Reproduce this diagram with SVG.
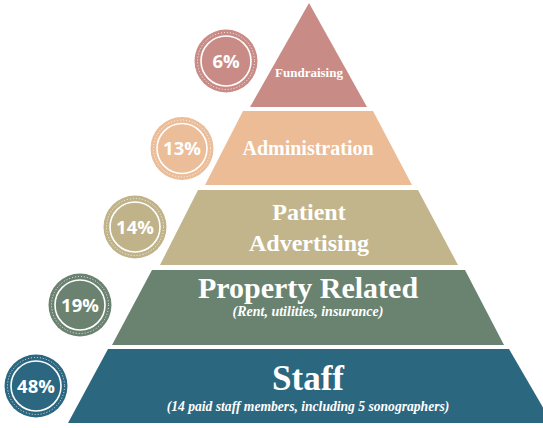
<svg xmlns="http://www.w3.org/2000/svg" width="543" height="428" viewBox="0 0 543 428">
  <style>
    .lbl { font-family: "Liberation Serif", "Times New Roman", serif; font-weight: bold; fill: #ffffff; text-anchor: middle; }
    .sub { font-family: "Liberation Serif", "Times New Roman", serif; font-weight: bold; font-style: italic; fill: #ffffff; text-anchor: middle; }
    .pct { font-family: "Open Sans", "Liberation Sans", sans-serif; font-weight: bold; fill: #ffffff; text-anchor: middle; font-size: 18.5px; }
    .ring { fill: none; stroke: #ffffff; stroke-width: 1.6; }
    .dots { fill: none; stroke: #ffffff; stroke-width: 1; stroke-dasharray: 1 2; opacity: 0.85; }
  </style>
  <rect width="543" height="428" fill="#ffffff"/>

  <g id="connectors"/>

  <g id="fundraising">
    <polygon points="309,3 367,107 250,107" fill="#c98b86"/>
    <text class="lbl" x="309" y="77" font-size="13">Fundraising</text>
  </g>
  <g id="administration">
    <polygon points="243,111 373,111 412,185 205,185" fill="#ecbc96"/>
    <text class="lbl" x="308" y="155" font-size="20">Administration</text>
  </g>
  <g id="patient-advertising">
    <polygon points="198,190 418,190 458,265 160,265" fill="#c2b58c"/>
    <text class="lbl" x="309" y="220" font-size="24">Patient</text>
    <text class="lbl" x="309" y="251" font-size="24">Advertising</text>
  </g>
  <g id="property-related">
    <polygon points="152,270 465,270 504,345 112,345" fill="#6a8371"/>
    <text class="lbl" x="308" y="298" font-size="30">Property Related</text>
    <text class="sub" x="308" y="316" font-size="14">(Rent, utilities, insurance)</text>
  </g>
  <g id="staff">
    <polygon points="108,349 509,349 552,423 68,423" fill="#2c6780"/>
    <text class="lbl" x="308" y="390" font-size="35">Staff</text>
    <text class="sub" x="308" y="411" font-size="13.6">(14 paid staff members, including 5 sonographers)</text>
  </g>

  <g id="badge-6">
    <circle cx="226" cy="61" r="31.5" fill="#c98b86"/>
    <circle cx="226" cy="61" r="28.5" class="dots"/>
    <circle cx="226" cy="61" r="25" class="ring"/>
    <text class="pct" x="226" y="67.5">6%</text>
  </g>
  <g id="badge-13">
    <circle cx="182" cy="148.5" r="31.5" fill="#ebbd98"/>
    <circle cx="182" cy="148.5" r="28.5" class="dots"/>
    <circle cx="182" cy="148.5" r="25" class="ring"/>
    <text class="pct" x="182" y="155">13%</text>
  </g>
  <g id="badge-14">
    <circle cx="135" cy="227" r="31.5" fill="#c0b38a"/>
    <circle cx="135" cy="227" r="28.5" class="dots"/>
    <circle cx="135" cy="227" r="25" class="ring"/>
    <text class="pct" x="135" y="233.5">14%</text>
  </g>
  <g id="badge-19">
    <circle cx="80" cy="305" r="31.5" fill="#6b8270"/>
    <circle cx="80" cy="305" r="28.5" class="dots"/>
    <circle cx="80" cy="305" r="25" class="ring"/>
    <text class="pct" x="80" y="311.5">19%</text>
  </g>
  <g id="badge-48">
    <circle cx="36" cy="386" r="31.5" fill="#2b6780"/>
    <circle cx="36" cy="386" r="28.5" class="dots"/>
    <circle cx="36" cy="386" r="25" class="ring"/>
    <text class="pct" x="36" y="392.5">48%</text>
  </g>
</svg>
